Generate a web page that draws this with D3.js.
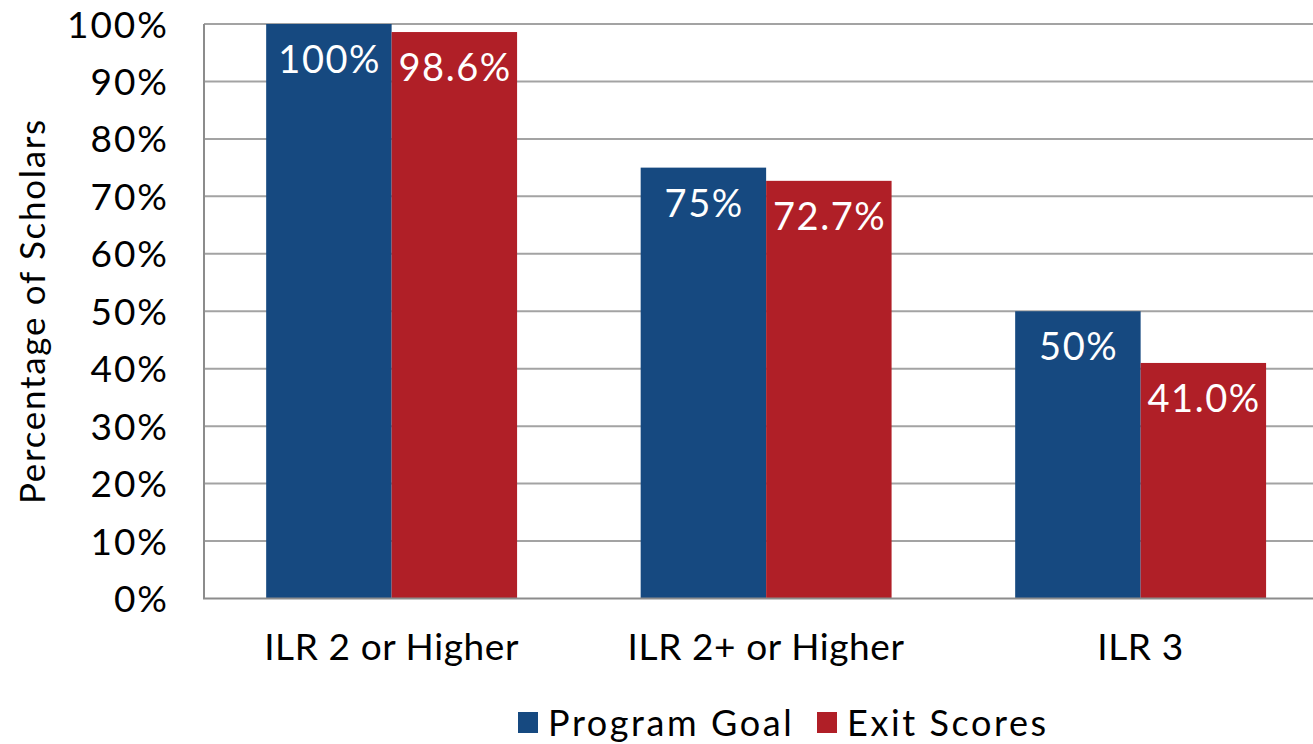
<!DOCTYPE html>
<html>
<head>
<meta charset="utf-8">
<script src="https://cdn.jsdelivr.net/npm/d3@7"></script>
<style>
  html, body { margin: 0; padding: 0; background: #fff; }
  svg { display: block; font-family: Lato, "DejaVu Sans", sans-serif; }
</style>
</head>
<body>
<svg id="chart" width="1313" height="744"></svg>
<script>
// Chart data
const categories = ["ILR 2 or Higher", "ILR 2+ or Higher", "ILR 3"];
const seriesNames = ["Program Goal", "Exit Scores"];
const programGoal = [100, 75, 50];
const exitScores = [98.6, 72.7, 41.0];
const goalLabels = ["100%", "75%", "50%"];
const exitLabels = ["98.6%", "72.7%", "41.0%"];
const yTicks = [0, 10, 20, 30, 40, 50, 60, 70, 80, 90, 100];
const colors = ["#164980", "#b01f27"];

const svg = d3.select("#chart");
const W = 1313, H = 744;
const m = { left: 204, top: 24, bottom: 598.5 };
const plotRight = 1327.5;   // category bands run slightly past the frame

const x0 = d3.scaleBand().domain(categories).range([m.left, plotRight]).padding(0);
const bw = x0.bandwidth();
const x1 = d3.scaleBand().domain(seriesNames).range([bw * 0.166, bw * 0.836]).padding(0);
const y = d3.scaleLinear().domain([0, 100]).range([m.bottom, m.top]);

// Horizontal gridlines
svg.append("g")
  .selectAll("line")
  .data(yTicks.filter(t => t > 0))
  .join("line")
  .attr("x1", m.left).attr("x2", W)
  .attr("y1", d => y(d)).attr("y2", d => y(d))
  .attr("stroke", "#a3a3a3").attr("stroke-width", 2);

// Bars
const rows = categories.map((c, i) => ({
  cat: c,
  vals: [
    { s: seriesNames[0], v: programGoal[i], label: goalLabels[i], color: colors[0] },
    { s: seriesNames[1], v: exitScores[i], label: exitLabels[i], color: colors[1] }
  ]
}));

const grp = svg.append("g")
  .selectAll("g")
  .data(rows)
  .join("g")
  .attr("transform", d => `translate(${x0(d.cat)},0)`);

grp.selectAll("rect")
  .data(d => d.vals)
  .join("rect")
  .attr("x", d => x1(d.s))
  .attr("y", d => y(d.v))
  .attr("width", x1.bandwidth())
  .attr("height", d => y(0) - y(d.v))
  .attr("fill", d => d.color);

// Value labels inside bar tops
const valueSpacing = 1.5;
grp.selectAll("text")
  .data(d => d.vals)
  .join("text")
  .attr("x", d => x1(d.s) + x1.bandwidth() / 2 + valueSpacing / 2)
  .attr("y", d => y(d.v) + 49)
  .attr("text-anchor", "middle")
  .attr("fill", "#fff")
  .attr("font-size", 38)
  .attr("letter-spacing", valueSpacing)
  .text(d => d.label);

// Axis lines
svg.append("line")
  .attr("x1", m.left).attr("x2", m.left)
  .attr("y1", m.top).attr("y2", m.bottom)
  .attr("stroke", "#8c8c8c").attr("stroke-width", 2);
svg.append("line")
  .attr("x1", m.left - 1).attr("x2", W)
  .attr("y1", m.bottom).attr("y2", m.bottom)
  .attr("stroke", "#8c8c8c").attr("stroke-width", 2);

// Y tick labels
const tickSpacing = 2;
svg.append("g")
  .selectAll("text")
  .data(yTicks)
  .join("text")
  .attr("x", 167 + tickSpacing)
  .attr("y", d => y(d) + 13.5)
  .attr("text-anchor", "end")
  .attr("font-size", 37)
  .attr("letter-spacing", tickSpacing)
  .attr("fill", "#000")
  .text(d => d + "%");

// Category labels
svg.append("g")
  .selectAll("text")
  .data(categories)
  .join("text")
  .attr("x", d => x0(d) + bw / 2 + 0.3)
  .attr("y", 660)
  .attr("text-anchor", "middle")
  .attr("font-size", 37)
  .attr("letter-spacing", 0.6)
  .attr("fill", "#000")
  .text(d => d);

// Y axis title
svg.append("text")
  .attr("transform", "translate(45,311) rotate(-90)")
  .attr("text-anchor", "middle")
  .attr("font-size", 35)
  .attr("letter-spacing", 1.7)
  .attr("fill", "#000")
  .text("Percentage of Scholars");

// Legend
const legendX = [518, 817];
const leg = svg.append("g")
  .selectAll("g")
  .data(seriesNames)
  .join("g")
  .attr("transform", (d, i) => `translate(${legendX[i]},712)`);
leg.append("rect")
  .attr("width", 20).attr("height", 21)
  .attr("fill", (d, i) => colors[i]);
leg.append("text")
  .attr("x", 30).attr("y", 23.5)
  .attr("font-size", 36)
  .attr("letter-spacing", 2.6)
  .attr("fill", "#000")
  .text(d => d);
</script>
</body>
</html>
